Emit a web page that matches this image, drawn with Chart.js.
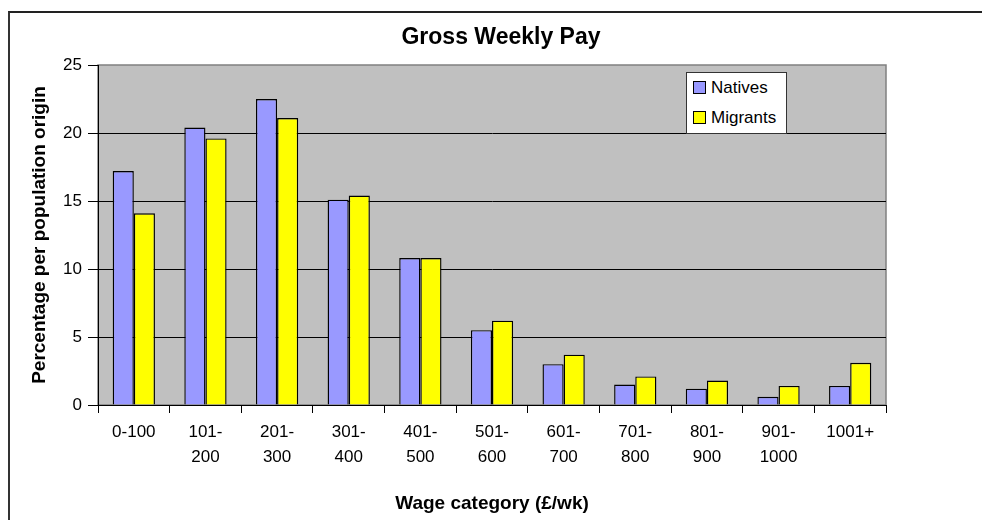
<!DOCTYPE html>
<html>
<head>
<meta charset="utf-8">
<script src="https://cdn.jsdelivr.net/npm/chart.js@4"></script>
<style>
  html, body { margin: 0; padding: 0; background: #fff; }
  #wrap { position: relative; width: 982px; height: 520px; overflow: hidden; font-family: "Liberation Sans", Arial, sans-serif; }
  #frame { position: absolute; left: 8px; top: 11px; width: 1000px; height: 600px; border-left: 2px solid #333; border-top: 2px solid #222; }
  #title { position: absolute; left: 0; top: 23px; width: 1002px; text-align: center; font-weight: bold; font-size: 23px; color: #000; }
  #legend { position: absolute; left: 686px; top: 72px; width: 99px; height: 60px; background: #fff; border: 1px solid #333; font-size: 17px; }
  #legend .item { position: absolute; left: 6px; height: 20px; line-height: 20px; }
  #legend .sw { display: inline-block; width: 11px; height: 11px; border: 1px solid #000; vertical-align: -1px; margin-right: 5px; }
  canvas { position: absolute; left: 0; top: 0; }
</style>
</head>
<body>
<div id="wrap">
  <div id="frame"></div>
  <canvas id="chart" width="982" height="520"></canvas>
  <div id="title">Gross Weekly Pay</div>
  <div id="legend"></div>
</div>
<script>
// data
const categories = [
  ['0-100'], ['101-', '200'], ['201-', '300'], ['301-', '400'], ['401-', '500'],
  ['501-', '600'], ['601-', '700'], ['701-', '800'], ['801-', '900'], ['901-', '1000'], ['1001+']
];
const natives  = [17.2, 20.4, 22.5, 15.1, 10.8, 5.5, 3.0, 1.5, 1.2, 0.6, 1.4];
const migrants = [14.1, 19.6, 21.1, 15.4, 10.8, 6.2, 3.7, 2.1, 1.8, 1.4, 3.1];
const yTicks = [0, 5, 10, 15, 20, 25];

const FONT = '"Liberation Sans", Arial, sans-serif';

// plot area background + grey border
const plotBg = {
  id: 'plotBg',
  beforeDraw(chart) {
    const { ctx, chartArea: a } = chart;
    ctx.save();
    ctx.fillStyle = '#C0C0C0';
    ctx.fillRect(a.left, a.top, a.right - a.left, a.bottom - a.top);
    ctx.strokeStyle = '#808080';
    ctx.lineWidth = 1.5;
    ctx.strokeRect(a.left, a.top, a.right - a.left, a.bottom - a.top);
    ctx.restore();
  }
};

const chart = new Chart(document.getElementById('chart'), {
  type: 'bar',
  data: {
    labels: categories,
    datasets: [
      { label: 'Natives', data: natives, backgroundColor: '#9999FF', borderColor: '#000', borderWidth: 1.4 },
      { label: 'Migrants', data: migrants, backgroundColor: '#FFFF00', borderColor: '#000', borderWidth: 1.4 }
    ]
  },
  options: {
    responsive: false,
    animation: false,
    categoryPercentage: 0.59,
    barPercentage: 1.0,
    layout: { padding: { top: 65, right: 96, bottom: 0, left: 0 } },
    plugins: {
      legend: { display: false },
      title: { display: false },
      tooltip: { enabled: false }
    },
    scales: {
      x: {
        offset: true,
        grid: { drawOnChartArea: false, tickLength: 8, tickColor: '#000', offset: true },
        border: { color: '#000', width: 1 },
        ticks: { color: '#000', padding: 7, maxRotation: 0, autoSkip: false, font: { family: FONT, size: 17, lineHeight: 1.45 } },
        title: { display: true, text: 'Wage category (£/wk)', color: '#000', font: { family: FONT, size: 19, weight: 'bold' }, padding: { top: 0, bottom: 4.6 } },
        afterFit: (s) => { s.height = 115; }
      },
      y: {
        min: 0, max: 25,
        afterBuildTicks: (s) => { s.ticks = yTicks.map(v => ({ value: v })); },
        grid: {
          color: (c) => c.tick && c.tick.value === 25 ? 'rgba(0,0,0,0)' : '#000',
          tickColor: '#000', tickLength: 10
        },
        border: { color: '#000', width: 1 },
        ticks: { color: '#000', padding: 6, font: { family: FONT, size: 17 } },
        title: { display: true, text: 'Percentage per population origin', color: '#000', font: { family: FONT, size: 19, weight: 'bold' }, padding: { top: 28.6, bottom: 0 } },
        afterFit: (s) => { s.width = 98; }
      }
    }
  },
  plugins: [plotBg]
});

// legend from datasets
const legend = document.getElementById('legend');
chart.data.datasets.forEach((ds, i) => {
  const it = document.createElement('div');
  it.className = 'item';
  it.style.top = (5 + i * 30) + 'px';
  it.innerHTML = `<span class="sw" style="background:${ds.backgroundColor}"></span>${ds.label}`;
  legend.appendChild(it);
});
</script>
</body>
</html>
